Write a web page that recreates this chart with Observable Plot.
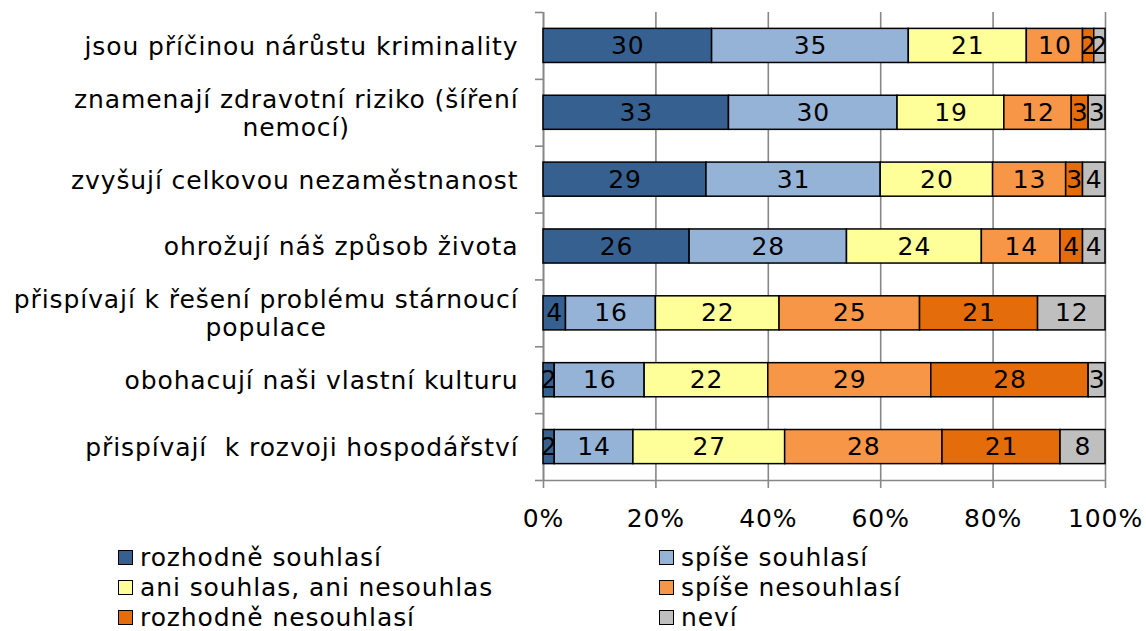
<!DOCTYPE html>
<html><head><meta charset="utf-8">
<script src="https://cdn.jsdelivr.net/npm/d3@7"></script>
<script src="https://cdn.jsdelivr.net/npm/@observablehq/plot@0.6"></script>
<style>
body{margin:0;background:#fff;font-family:"DejaVu Sans",Verdana,sans-serif;}
#chart svg{display:block;}
#chart svg text{letter-spacing:0.9px;}
#legend{display:grid;grid-template-columns:541px auto;padding-left:118px;margin-top:7px;font-size:25px;color:#000;letter-spacing:0.9px;}
.item{height:30px;display:flex;align-items:center;white-space:nowrap;}
.sw{width:13px;height:13px;border:1.5px solid #000;margin-right:7px;flex:none;}
</style></head><body>
<div id="chart"></div>
<div id="legend"></div>
<script>
const categories = [
  "jsou příčinou nárůstu kriminality",
  "znamenají zdravotní riziko (šíření\nnemocí)",
  "zvyšují celkovou nezaměstnanost",
  "ohrožují náš způsob života",
  "přispívají k řešení problému stárnoucí\npopulace",
  "obohacují naši vlastní kulturu",
  "přispívají  k rozvoji hospodářství"
];
const seriesNames = ["rozhodně souhlasí","spíše souhlasí","ani souhlas, ani nesouhlas","spíše nesouhlasí","rozhodně nesouhlasí","neví"];
const seriesColors = ["#35608F","#95B3D7","#FFFF9A","#F79646","#E46C0A","#BFBFBF"];
const rozhodneSouhlasi   = [30,33,29,26,4,2,2];
const spiseSouhlasi      = [35,30,31,28,16,16,14];
const aniAni             = [21,19,20,24,22,22,27];
const spiseNesouhlasi    = [10,12,13,14,25,29,28];
const rozhodneNesouhlasi = [2,3,3,4,21,28,21];
const nevi               = [2,3,4,4,12,3,8];
const xTicks = [0,20,40,60,80,100];

const series = [rozhodneSouhlasi, spiseSouhlasi, aniAni, spiseNesouhlasi, rozhodneNesouhlasi, nevi];
const table = [];
categories.forEach((c, i) => {
  let acc = 0;
  series.forEach((s, j) => {
    const v = s[i];
    table.push({cat: c, series: seriesNames[j], value: v, x1: acc, x2: acc + v, xm: acc + v/2, y1: i + 0.245, y2: i + 0.755, ym: i + 0.5});
    acc += v;
  });
});
const gray = "#878787";
const fs = 25;
const chart = Plot.plot({
  width: 1146, height: 535,
  marginLeft: 543, marginRight: 41, marginTop: 12, marginBottom: 55,
  style: {fontFamily: '"DejaVu Sans", Verdana, sans-serif', fontSize: fs + "px", background: "#fff", color: "#000"},
  x: {domain: [0, 100], axis: null},
  y: {domain: [0, categories.length], reverse: true, axis: null},
  color: {domain: seriesNames, range: seriesColors},
  marks: [
    Plot.gridX(xTicks, {stroke: gray, strokeOpacity: 1, strokeWidth: 1.6}),
    Plot.axisX({ticks: xTicks, tickSize: 8, tickPadding: 21, stroke: gray, strokeWidth: 1.6, fill: "#000", fontSize: fs, tickFormat: d => d + "%"}),
    Plot.axisY({ticks: d3.range(categories.length + 1), tickSize: 8, tickFormat: () => "", stroke: gray, strokeWidth: 1.6}),
    Plot.ruleY([categories.length], {stroke: gray, strokeWidth: 1.6}),
    Plot.ruleX([0], {stroke: gray, strokeWidth: 1.6}),
    Plot.rectX(table, {x1: "x1", x2: "x2", y1: "y1", y2: "y2", fill: "series", stroke: "#000", strokeWidth: 1.5}),
    Plot.text(table, {x: "xm", y: "ym", text: d => String(d.value), fontSize: fs, fill: "#000"}),
    Plot.text(categories, {x: 0, y: (d, i) => i + 0.5, text: d => d, textAnchor: "end", dx: -25, fontSize: fs, lineHeight: 1.12, fill: "#000"})
  ]
});
document.getElementById("chart").appendChild(chart);
// center wrapped category labels on their first line
chart.querySelectorAll("text").forEach(t => {
  const spans = t.querySelectorAll("tspan");
  if (spans.length > 1) {
    const w = spans[0].getComputedTextLength();
    t.setAttribute("text-anchor", "middle");
    spans.forEach(s => s.setAttribute("x", -w / 2));
  }
});
const lg = document.getElementById("legend");
seriesNames.forEach((n, j) => {
  const d = document.createElement("div");
  d.className = "item";
  d.innerHTML = `<span class="sw" style="background:${seriesColors[j]}"></span><span>${n}</span>`;
  lg.appendChild(d);
});
</script>
</body></html>
